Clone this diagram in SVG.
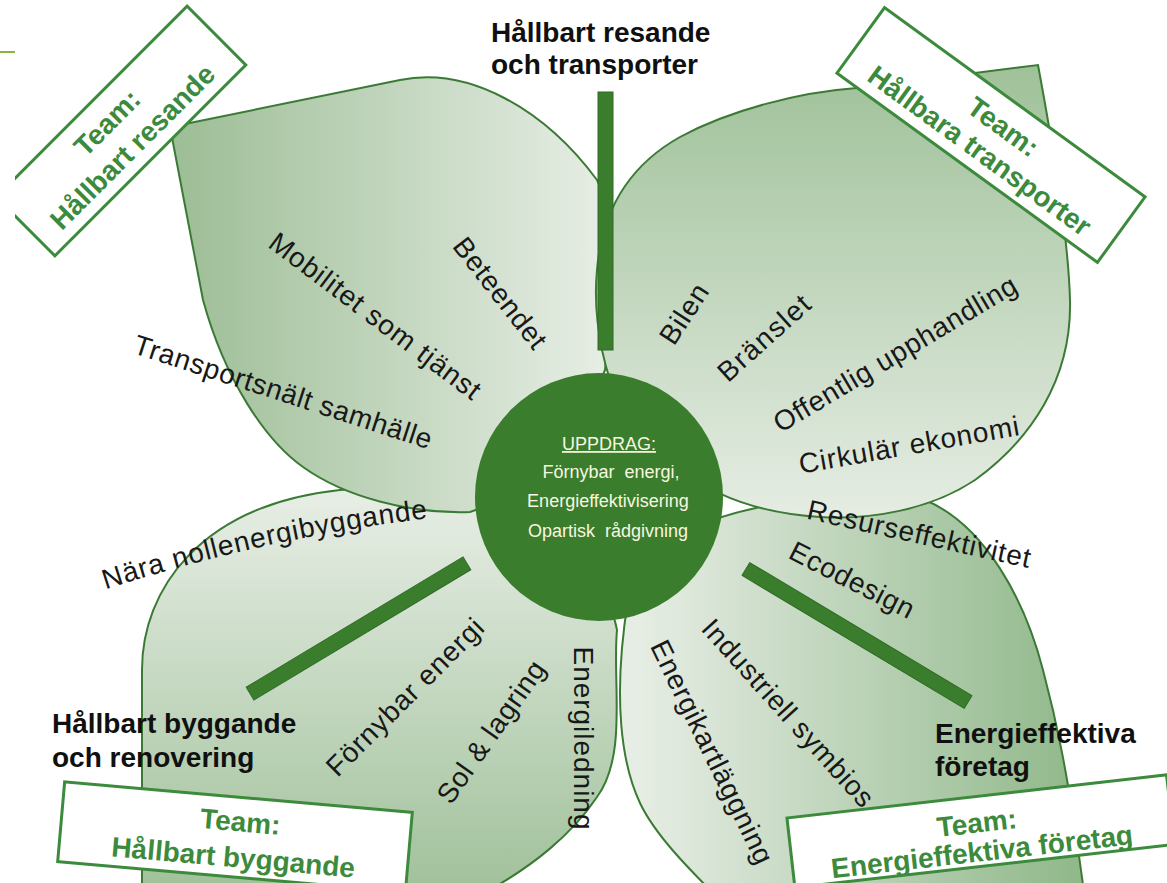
<svg xmlns="http://www.w3.org/2000/svg" width="1167" height="883" viewBox="0 0 1167 883">
<defs>
<style>
.petal{stroke:#3b7a35;stroke-width:2}
.pt{font-family:'Liberation Sans',Arial,sans-serif;font-size:28px;fill:#181818;text-anchor:middle}
.lbl{font-family:'Liberation Sans',Arial,sans-serif;font-size:28px;font-weight:bold;fill:#101010}
.team{font-family:'Liberation Sans',Arial,sans-serif;font-size:28px;font-weight:bold;fill:#3c8a3c;text-anchor:middle}
.box{fill:#ffffff;stroke:#3c8a3c;stroke-width:3}
.bar{fill:#3a7d2c;stroke:#2e6b24;stroke-width:1}
.ctr{font-family:'Liberation Sans',Arial,sans-serif;font-size:18px;fill:#f8f6e0;text-anchor:middle}
</style>
<linearGradient id="gTL" gradientUnits="userSpaceOnUse" x1="170" y1="0" x2="600" y2="0"><stop offset="0" stop-color="#9cbd95"/><stop offset="1" stop-color="#e6ede4"/></linearGradient>
<linearGradient id="gTR" gradientUnits="userSpaceOnUse" x1="0" y1="65" x2="0" y2="520"><stop offset="0" stop-color="#9fc199"/><stop offset="1" stop-color="#e6ede4"/></linearGradient>
<linearGradient id="gBL" gradientUnits="userSpaceOnUse" x1="0" y1="500" x2="0" y2="883"><stop offset="0" stop-color="#e6ede4"/><stop offset="1" stop-color="#a2c29c"/></linearGradient>
<linearGradient id="gBR" gradientUnits="userSpaceOnUse" x1="640" y1="0" x2="1070" y2="0"><stop offset="0" stop-color="#e6ede4"/><stop offset="1" stop-color="#92b98c"/></linearGradient>
<clipPath id="clipL"><rect x="15" y="0" width="400" height="400"/></clipPath>
<path id="pNara" d="M 104,590 Q 263,538 430,518" fill="none"/>
</defs>
<rect width="1167" height="883" fill="#ffffff"/>
<line x1="0" y1="52" x2="15" y2="52" stroke="#8ab43a" stroke-width="2"/>

<g id="petal-bottom-left">
<path class="petal" fill="url(#gBL)" d="M 142,900 L 142,670 C 142,590 200,505 340,490 C 470,478 600,540 617,630 C 612,680 628,755 597,797 C 575,830 535,868 470,900 Z"/>
</g>
<g id="petal-bottom-right">
<path class="petal" fill="url(#gBR)" d="M 640,560 C 700,510 800,490 925,500 C 985,525 1025,600 1043,670 C 1055,715 1068,770 1085,900 L 720,900 C 690,870 655,835 640,803 C 622,765 612,700 628,600 Z"/>
</g>
<g id="petal-top-left">
<path class="petal" fill="url(#gTL)" d="M 170,127 L 400,80 C 470,66 545,110 597,180 C 615,215 612,300 605,370 L 560,480 L 470,512 C 410,514 345,497 303,467 C 265,440 225,380 203,300 Z"/>
</g>
<g id="petal-top-right">
<path class="petal" fill="url(#gTR)" d="M 1038,65 C 1050,130 1068,230 1070,300 C 1072,380 1030,440 975,480 C 930,510 870,520 820,517 C 770,514 720,500 680,470 L 610,380 C 597,340 594,300 597,270 C 602,210 630,165 680,137 C 730,110 800,92 857,88 Z"/>
</g>

<g id="connectors">
<rect class="bar" x="598" y="92" width="15" height="258"/>
<rect class="bar" x="-126.5" y="-7.5" width="253" height="15" transform="translate(358.5,628.5) rotate(-31)"/>
<rect class="bar" x="-129.5" y="-7.5" width="259" height="15" transform="translate(857,635.5) rotate(30.9)"/>
</g>

<g id="center">
<circle cx="599" cy="497" r="124" fill="#3a7d2c"/>
<text class="ctr" x="609" y="450" font-size="19" text-decoration="underline">UPPDRAG:</text>
<text class="ctr" x="611" y="478" xml:space="preserve">Förnybar  energi,</text>
<text class="ctr" x="608" y="507">Energieffektivisering</text>
<text class="ctr" x="608" y="537" xml:space="preserve">Opartisk  rådgivning</text>
</g>

<g id="texts-top-left">
<text class="pt" transform="translate(500,293) rotate(52)" y="9.5" textLength="133" lengthAdjust="spacing">Beteendet</text>
<text class="pt" transform="translate(375,316) rotate(37)" y="9.5" textLength="257" lengthAdjust="spacing">Mobilitet som tjänst</text>
<text class="pt" transform="translate(283,392) rotate(18)" y="9.5" textLength="312" lengthAdjust="spacing">Transportsnält samhälle</text>
</g>
<g id="texts-bottom-left">
<text class="pt" letter-spacing="0.8"><textPath href="#pNara" startOffset="50%">Nära nollenergibyggande</textPath></text>
<text class="pt" transform="translate(405,697) rotate(-45)" y="9.5" textLength="210" lengthAdjust="spacing">Förnybar energi</text>
<text class="pt" transform="translate(491,732) rotate(-55)" y="9.5" textLength="167" lengthAdjust="spacing">Sol &amp; lagring</text>
<text class="pt" transform="translate(583,738) rotate(90)" y="9.5" textLength="183" lengthAdjust="spacing">Energiledning</text>
</g>
<g id="texts-bottom-right">
<text class="pt" transform="translate(712,752) rotate(64)" y="9.5" textLength="245" lengthAdjust="spacing">Energikartläggning</text>
<text class="pt" transform="translate(788,713) rotate(48)" y="9.5" textLength="242" lengthAdjust="spacing">Industriell symbios</text>
<text class="pt" transform="translate(852,580) rotate(27)" y="9.5" textLength="136" lengthAdjust="spacing">Ecodesign</text>
<text class="pt" transform="translate(919,534) rotate(12.5)" y="9.5" textLength="228" lengthAdjust="spacing">Resurseffektivitet</text>
</g>
<g id="texts-top-right">
<text class="pt" transform="translate(684,314) rotate(-57)" y="9.5" textLength="66" lengthAdjust="spacing">Bilen</text>
<text class="pt" transform="translate(764,338) rotate(-42)" y="9.5" textLength="114" lengthAdjust="spacing">Bränslet</text>
<text class="pt" transform="translate(895,354) rotate(-30.8)" y="9.5" textLength="278" lengthAdjust="spacing">Offentlig upphandling</text>
<text class="pt" transform="translate(909,445) rotate(-10)" y="9.5" textLength="223" lengthAdjust="spacing">Cirkulär ekonomi</text>
</g>

<g id="team-hallbart-resande" clip-path="url(#clipL)">
<g transform="translate(121,131) rotate(-45)">
<rect class="box" x="-135" y="-41.5" width="270" height="83"/>
<text class="team" x="-4" y="-6">Team:</text>
<text class="team" x="-3" y="29">Hållbart resande</text>
</g>
</g>
<g id="team-hallbara-transporter">
<g transform="translate(991,135) rotate(36)">
<rect class="box" x="-161" y="-40.5" width="322" height="81"/>
<text class="team" x="5" y="-4">Team:</text>
<text class="team" x="0" y="29">Hållbara transporter</text>
</g>
</g>
<g id="team-hallbart-byggande">
<g transform="translate(235,837) rotate(5)">
<rect class="box" x="-174.5" y="-40" width="349" height="80"/>
<text class="team" x="4" y="-6">Team:</text>
<text class="team" x="0" y="30">Hållbart byggande</text>
</g>
</g>
<g id="team-energieffektiva-foretag">
<g transform="translate(980.7,831.2) rotate(-6.5)">
<rect class="box" x="-191" y="-35" width="382" height="70"/>
<text class="team" x="-3" y="1">Team:</text>
<text class="team" x="-1" y="30">Energieffektiva företag</text>
</g>
</g>

<g id="label-resande">
<text class="lbl" x="491" y="42">Hållbart resande</text>
<text class="lbl" x="491" y="74">och transporter</text>
</g>
<g id="label-byggande">
<text class="lbl" x="52" y="733">Hållbart byggande</text>
<text class="lbl" x="52" y="767">och renovering</text>
</g>
<g id="label-foretag">
<text class="lbl" x="935" y="743">Energieffektiva</text>
<text class="lbl" x="935" y="776">företag</text>
</g>
</svg>
